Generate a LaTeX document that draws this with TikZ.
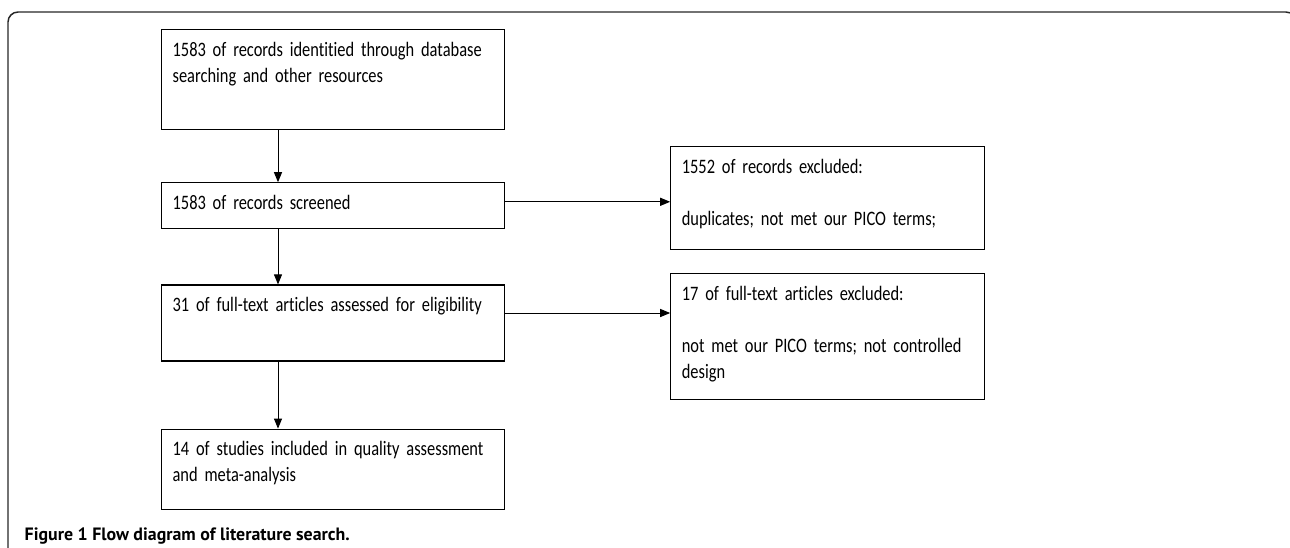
\documentclass[tikz,border=0pt]{standalone}
\usepackage{fontspec}
\setmainfont{Carlito}[FakeStretch=0.8, Ligatures=CommonOff]
\newfontfamily\capfont{PT Sans}
\usetikzlibrary{arrows.meta, positioning}
\tikzstyle{stage} = [draw, rectangle, line width=0.9pt, inner xsep=8.25pt, inner ysep=0pt, text height=20pt, align=left, font=\fontsize{15.4}{19.5}\selectfont]
\tikzstyle{main} = [stage, text width=240.75pt]
\tikzstyle{side} = [stage, text width=219pt]
\tikzstyle{path} = [-{Triangle[length=7.5pt, width=6pt]}, line width=0.75pt]
\tikzstyle{frame} = [line width=1.1pt, black!85, rounded corners=7.5pt]
\tikzstyle{caption} = [anchor=base west, font=\capfont\bfseries\fontsize{13.4}{15}\selectfont]

\begin{document}
\begin{tikzpicture}[x=0.75pt, y=-0.75pt]
    \useasboundingbox (0,0) rectangle (1290,547);
    \draw [frame] (8,560) |- (1296,12) -- (1296,560);

    % Main column.
    \node (records) [main, anchor=north west, text depth=55pt] at (161,29) {1583 of records identitied through database\\searching and other resources};
    \node (screened) [main, below=39pt of records, text depth=14.5pt] {1583 of records screened};
    \node (fulltext) [main, below=41.25pt of screened, text depth=37pt] {31 of full-text articles assessed for eligibility};
    \node (included) [main, below=50.25pt of fulltext, text depth=40pt] {14 of studies included in quality assessment\\and meta-analysis};

    % Exclusions.
    \node (excluded) [side, right=123.75pt of screened, yshift=5.6pt, text depth=57.25pt] {1552 of records excluded:\\[\baselineskip]duplicates; not met our PICO terms;};
    \node (fullexcl) [side, right=123.75pt of fulltext, yshift=-10pt, text depth=74.5pt] {17 of full-text articles excluded:\\[\baselineskip]not met our PICO terms; not controlled\\design};

    \node (caption) [caption] at (20,540) {Figure 1 Flow diagram of literature search.};

    % Arrows.
    \foreach\i/\j in {records/screened, screened/fulltext, fulltext/included} {
        \draw [path] ([xshift=87.75pt]\i.south west) -- ([xshift=87.75pt]\j.north west);
    }
    \draw [path] ([yshift=3pt]screened.east) -- ([yshift=3pt]screened.east -| excluded.west);
    \draw [path] ([yshift=7.5pt]fulltext.east) -- ([yshift=7.5pt]fulltext.east -| fullexcl.west);
\end{tikzpicture}
\end{document}
